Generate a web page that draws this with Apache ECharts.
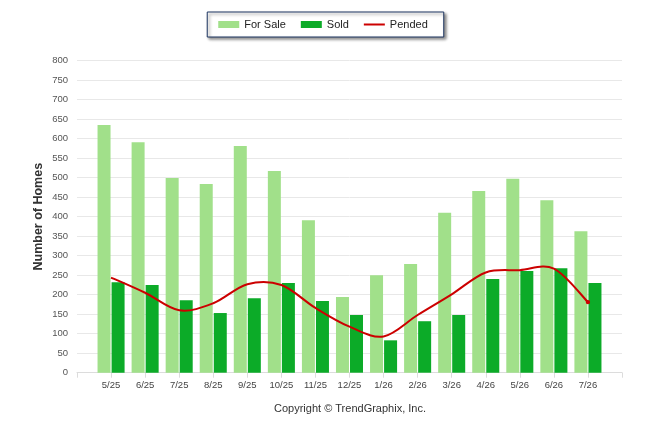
<!DOCTYPE html>
<html>
<head>
<meta charset="utf-8">
<script src="https://cdn.jsdelivr.net/npm/echarts@6/dist/echarts.min.js"></script>
<style>
html,body{margin:0;padding:0;background:#fff;}
#chart{width:646px;height:434px;}
</style>
</head>
<body>
<div id="chart"></div>
<script>
var categories = ['5/25','6/25','7/25','8/25','9/25','10/25','11/25','12/25','1/26','2/26','3/26','4/26','5/26','6/26','7/26'];
var forSale = [635, 591, 499, 484, 581, 517, 391, 194, 250, 279, 410, 466, 497, 442, 363];
var sold = [232, 225, 186, 153, 191, 230, 184, 148, 83, 132, 148, 240, 261, 268, 230];
var pended = [244, 205, 160, 178, 227, 225, 166, 118, 93, 148, 201, 257, 263, 267, 181];
var yTicks = {min: 0, max: 800, interval: 50};

function pad(arr) { return [null].concat(arr, [null]); }
var xCats = [''].concat(categories, ['']);

// Pended: spline (Catmull-Rom) drawn through axis coordinates
function renderPended(params, api) {
  if (params.dataIndex !== 0) return null;
  var pts = pended.map(function (v, i) { return api.coord([i + 1, v]); });
  var d = 'M' + pts[0][0] + ',' + pts[0][1];
  for (var i = 0; i < pts.length - 1; i++) {
    var p0 = pts[i - 1] || pts[i];
    var p1 = pts[i];
    var p2 = pts[i + 1];
    var p3 = pts[i + 2] || pts[i + 1];
    var c1x = p1[0] + (p2[0] - p0[0]) / 6;
    var c1y = p1[1] + (p2[1] - p0[1]) / 6;
    var c2x = p2[0] - (p3[0] - p1[0]) / 6;
    var c2y = p2[1] - (p3[1] - p1[1]) / 6;
    d += ' C' + c1x + ',' + c1y + ' ' + c2x + ',' + c2y + ' ' + p2[0] + ',' + p2[1];
  }
  var last = pts[pts.length - 1];
  return {
    type: 'group',
    children: [
      {type: 'path', shape: {pathData: d}, style: {fill: 'none', stroke: '#cc0000', lineWidth: 2}},
      {type: 'circle', shape: {cx: last[0], cy: last[1], r: 2.2}, style: {fill: '#cc0000'}}
    ]
  };
}

var chart = echarts.init(document.getElementById('chart'));
chart.setOption({
  animation: false,
  textStyle: {fontFamily: 'Liberation Sans'},
  legend: {
    top: 12,
    left: 'center',
    itemWidth: 21,
    itemHeight: 7,
    itemGap: 15,
    padding: [7, 16, 7, 11],
    borderColor: '#1c3461',
    borderWidth: 1,
    backgroundColor: '#fff',
    shadowColor: 'rgba(0,0,0,0.45)',
    shadowBlur: 3,
    shadowOffsetX: 2,
    shadowOffsetY: 2,
    textStyle: {fontSize: 11, color: '#222', fontFamily: 'Liberation Sans'},
    data: [
      {name: 'For Sale', icon: 'rect'},
      {name: 'Sold', icon: 'rect'},
      {name: 'Pended', icon: 'path://M0,0L0,0M0,2.5L21,2.5L21,4.5L0,4.5ZM21,7L21,7'}
    ]
  },
  grid: {left: 77, right: 24, top: 60.7, bottom: 61.3},
  xAxis: {
    type: 'category',
    data: xCats,
    boundaryGap: false,
    axisLine: {lineStyle: {color: '#dcdcdc'}},
    axisTick: {length: 5, lineStyle: {color: '#dcdcdc'}},
    axisLabel: {interval: 0, fontSize: 9.5, color: '#444', margin: 8},
    splitLine: {show: false}
  },
  yAxis: {
    type: 'value',
    min: yTicks.min, max: yTicks.max, interval: yTicks.interval,
    name: 'Number of Homes',
    nameLocation: 'middle',
    nameGap: 32,
    nameMoveOverlap: false,
    nameTextStyle: {fontSize: 12.5, fontWeight: 'bold', color: '#333'},
    axisLine: {show: false},
    axisTick: {show: false},
    axisLabel: {fontSize: 9.5, color: '#555', margin: 9},
    splitLine: {lineStyle: {color: '#e8e8e8'}}
  },
  graphic: [{
    type: 'text',
    x: 350,
    y: 409,
    style: {text: 'Copyright \u00A9 TrendGraphix, Inc.', fontSize: 11, fill: '#333', fontFamily: 'Liberation Sans', align: 'center', verticalAlign: 'middle'}
  }],
  series: [
    {
      name: 'For Sale', type: 'bar', data: pad(forSale),
      barWidth: 13, barGap: '8%',
      itemStyle: {color: '#a1e08a'}
    },
    {
      name: 'Sold', type: 'bar', data: pad(sold),
      barWidth: 13,
      itemStyle: {color: '#0cab28'}
    },
    {
      name: 'Pended', type: 'custom',
      data: pended.map(function (v, i) { return [i + 1, v]; }),
      encode: {x: 0, y: 1},
      renderItem: renderPended,
      itemStyle: {color: '#cc0000'},
      z: 5
    }
  ]
});
</script>
</body>
</html>
